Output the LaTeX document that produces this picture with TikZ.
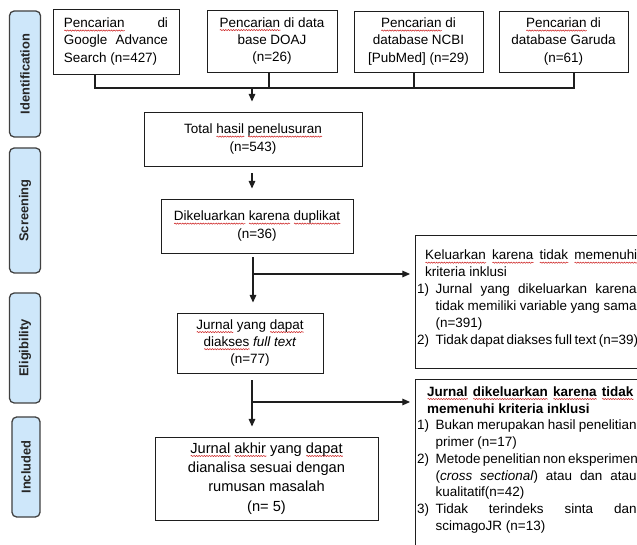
\documentclass[tikz,border=0pt]{standalone}
\usepackage{fontspec}
\setmainfont{Liberation Sans}
\usepackage{tikz}
\usetikzlibrary{arrows.meta, positioning, calc, decorations.pathmorphing}
\definecolor{stagefill}{RGB}{206,231,250}
\definecolor{stageline}{RGB}{64,64,64}
\definecolor{boxline}{RGB}{30,30,30}
\definecolor{splred}{RGB}{205,35,35}
\newlength{\splw}
\newcommand{\spl}[1]{\settowidth{\splw}{#1}\rlap{\tikz[baseline=0pt]
  \draw[splred, line width=0.45pt, decorate,
    decoration={snake, amplitude=0.5pt, segment length=2.2pt}]
    (0pt,-2.3pt) -- (\splw,-2.3pt);}#1}
\newcommand{\jl}[2]{\makebox[#1][s]{#2}}
% item label and its hanging indent
\newcommand{\itm}[1]{\makebox[0.55cm][l]{#1}}
\newcommand{\hng}{\hspace*{0.55cm}}

\begin{document}
\begin{tikzpicture}[x=0.03cm, y=-0.03cm,
  stage/.style={rectangle, rounded corners=4pt, draw=stageline,
    line width=1.1pt, fill=stagefill, rotate=90,
    minimum height=0.93cm, text=black!85,
    font=\fontsize{11}{12}\selectfont\bfseries},
  box/.style={rectangle, draw=boxline, line width=0.8pt,
    align=center, inner sep=0pt,
    font=\fontsize{11.5}{14.6}\selectfont},
  note/.style={anchor=north west, inner sep=0pt, align=left,
    font=\fontsize{11.5}{14.5}\selectfont},
  link/.style={draw=boxline, line width=0.9pt},
  arr/.style={link, -{Triangle[length=2.3mm, width=2mm]},
    shorten >=0.3cm}
]
\useasboundingbox (0,0) rectangle (637,545);
\clip (0,0) rectangle (637,545);

% Stage labels (left)
\node[stage, minimum width=3.78cm] (ident) at (25,74) {Identification};
\node[stage, minimum width=3.75cm] (screen) at (25,210.5) {Screening};
\node[stage, minimum width=3.3cm] (elig) at (25,348) {Eligibility};
\node[stage, minimum width=3.0cm, minimum height=0.84cm] (incl)
  at (26,467) {Included};

% Search sources
\node[box, align=left, minimum width=3.78cm, minimum height=1.95cm]
  (google) at (116,41.5)
  {\jl{3.12cm}{\spl{Pencarian} di}\\
   \jl{3.12cm}{Google Advance}\\
   Search (n=427)};
\node[box, minimum width=3.9cm, minimum height=1.86cm] (doaj)
  at (272,41) {\spl{Pencarian} di data\\ base DOAJ\\ (n=26)};
\node[box, minimum width=3.87cm, minimum height=1.83cm] (ncbi)
  at (418.5,41.5) {\spl{Pencarian} di\\ database NCBI\\{}[PubMed] (n=29)};
\node[box, minimum width=3.87cm, minimum height=1.83cm] (garuda)
  at (563.5,41.5) {\spl{Pencarian} di\\ database Garuda\\ (n=61)};

% Main column
\node[box, minimum width=6.54cm, minimum height=1.62cm] (total)
  at (253,139) {Total \spl{hasil} \spl{penelusuran}\\ (n=543)};
\node[box, minimum width=5.76cm, minimum height=1.62cm] (dupl)
  at (257,226) {\spl{Dikeluarkan} \spl{karena} \spl{duplikat}\\ (n=36)};
\node[box, minimum width=4.38cm, minimum height=1.8cm] (full)
  at (250,343) {\spl{Jurnal} yang \spl{dapat}\\
  \spl{diakses} \textit{full text}\\ (n=77)};
\node[box, minimum width=6.69cm, minimum height=2.49cm,
      font=\fontsize{12.5}{16.5}\selectfont] (final)
  at (266.5,478.5) {\spl{Jurnal} \spl{akhir} yang \spl{dapat}\\
  dianalisa sesuai dengan\\ rumusan masalah\\ (n= 5)};

% Exclusion boxes (right)
\node[box, anchor=north west, minimum width=7cm, minimum height=3.99cm]
  (excl1) at (415,235) {};
\node[box, anchor=north west, minimum width=7cm, minimum height=5.43cm]
  (excl2) at (415,379) {};

\node[note] (excl1txt) at ([xshift=0.06cm, yshift=-0.45cm]excl1.north west)
  {\hspace*{0.24cm}\jl{6.36cm}{\spl{Keluarkan} \spl{karena} \spl{tidak} \spl{memenuhi}}\\
   \hspace*{0.24cm}kriteria inklusi\\
   \itm{1)}\jl{6.03cm}{Jurnal yang dikeluarkan karena}\\
   \hng\jl{6.03cm}{tidak memiliki variable yang sama}\\
   \hng(n=391)\\
   \itm{2)}\jl{6.03cm}{Tidak dapat diakses full text (n=39)}};
\node[note, font=\fontsize{11.5}{14.3}\selectfont] (excl2txt)
  at ([xshift=0.06cm, yshift=-0.22cm]excl2.north west)
  {\hspace*{0.3cm}\textbf{\jl{6.18cm}{\spl{Jurnal} \spl{dikeluarkan} \spl{karena} \spl{tidak}}}\\
   \hspace*{0.3cm}\textbf{memenuhi kriteria inklusi}\\
   \itm{1)}\jl{6.03cm}{Bukan merupakan hasil penelitian}\\
   \hng primer (n=17)\\
   \itm{2)}\jl{6.03cm}{Metode penelitian non eksperimen}\\
   \hng\jl{6.03cm}{(\textit{cross sectional}) atau dan atau}\\
   \hng kualitatif(n=42)\\
   \itm{3)}\jl{6.03cm}{Tidak terindeks sinta dan}\\
   \hng scimagoJR (n=13)};

% Connectors
\coordinate (s1) at (95,88);
\coordinate (s2) at (269,88);
\coordinate (s3) at (414,88);
\coordinate (s4) at (574,88);
\coordinate (j0) at (252,88);
\coordinate (j1) at (253,274);
\coordinate (j2) at (252,402);

\draw[link] (google.south -| s1) -- (s1) -- (s4) -- (garuda.south -| s4);
\draw[link] (doaj.south -| s2) -- (s2);
\draw[link] (ncbi.south -| s3) -- (s3);
\draw[arr] (j0) -- (total.north -| j0);
\draw[arr, shorten <=0.21cm] (total.south -| j0) -- (dupl.north -| j0);
\draw[arr, shorten <=0.12cm] (dupl.south -| j1) -- (full.north -| j1);
\draw[arr, shorten >=0.15cm] (j1) -- (excl1.west |- j1);
\draw[arr, shorten <=0.21cm] (full.south -| j2) -- (final.north -| j2);
\draw[arr, shorten >=0.15cm] (j2) -- (excl2.west |- j2);
\end{tikzpicture}
\end{document}
